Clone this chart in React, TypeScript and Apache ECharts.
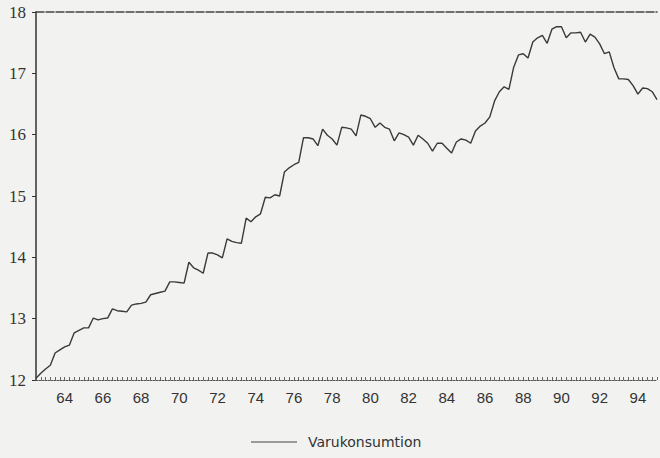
import React, { useEffect, useRef } from "react";
import * as echarts from "echarts";

const startYear = 1963;
const seriesName = "Varukonsumtion";

// Quarterly values, 1963Q1 .. 1995Q3
const values: number[] = [
  12.03, 12.11, 12.18, 12.24, // 1963
  12.44, 12.49, 12.54, 12.57, // 1964
  12.77, 12.81, 12.85, 12.85, // 1965
  13.01, 12.98, 13.0, 13.01, // 1966
  13.16, 13.13, 13.12, 13.11, // 1967
  13.22, 13.24, 13.25, 13.27, // 1968
  13.39, 13.41, 13.43, 13.45, // 1969
  13.6, 13.6, 13.59, 13.58, // 1970
  13.92, 13.83, 13.79, 13.74, // 1971
  14.07, 14.07, 14.04, 13.99, // 1972
  14.3, 14.26, 14.24, 14.23, // 1973
  14.64, 14.58, 14.66, 14.71, // 1974
  14.98, 14.97, 15.02, 15.0, // 1975
  15.39, 15.46, 15.51, 15.55, // 1976
  15.95, 15.95, 15.93, 15.82, // 1977
  16.09, 15.99, 15.93, 15.83, // 1978
  16.12, 16.11, 16.09, 15.98, // 1979
  16.32, 16.3, 16.26, 16.12, // 1980
  16.19, 16.12, 16.09, 15.9, // 1981
  16.03, 16.0, 15.96, 15.83, // 1982
  15.99, 15.93, 15.86, 15.73, // 1983
  15.86, 15.86, 15.78, 15.7, // 1984
  15.88, 15.93, 15.91, 15.86, // 1985
  16.06, 16.14, 16.19, 16.29, // 1986
  16.55, 16.7, 16.78, 16.74, // 1987
  17.1, 17.3, 17.32, 17.25, // 1988
  17.51, 17.58, 17.62, 17.49, // 1989
  17.72, 17.76, 17.76, 17.58, // 1990
  17.66, 17.66, 17.67, 17.51, // 1991
  17.64, 17.59, 17.48, 17.32, // 1992
  17.35, 17.09, 16.91, 16.91, // 1993
  16.9, 16.8, 16.66, 16.76, // 1994
  16.75, 16.7, 16.57, // 1995
];

const categories: string[] = values.map((_, i) => {
  const y = startYear + Math.floor(i / 4);
  return `${y}Q${(i % 4) + 1}`;
});

const yMin = 12;
const yMax = 18;
const yStep = 1;

const SANS = "Arial";
const SERIF = "Liberation Serif";
const LEGEND_FONT = "DejaVu Sans";

export default function App() {
  const ref = useRef<HTMLDivElement>(null);

  useEffect(() => {
    if (!ref.current) return;
    const chart = echarts.init(ref.current, undefined, { renderer: "svg" });
    const showLabel = (_idx: number, val: string) => {
      const year = parseInt(val.slice(0, 4), 10);
      return val.endsWith("Q3") && year % 2 === 0;
    };
    chart.setOption({
      animation: false,
      backgroundColor: "#f2f2f0",
      grid: { left: 36, right: 3, top: 12, bottom: 78 },
      legend: {
        left: 246,
        top: 430,
        itemWidth: 46,
        itemHeight: 1,
        icon: "rect",
        data: [{ name: seriesName, icon: "rect", itemStyle: { color: "#444" } }],
        textStyle: {
          fontFamily: LEGEND_FONT,
          fontSize: 14,
          color: "#333",
          padding: [0, 0, 0, 6],
        },
      },
      xAxis: [
        {
          type: "category",
          data: categories,
          boundaryGap: false,
          position: "bottom",
          axisLine: { lineStyle: { color: "#555", width: 1, type: [2, 1] } },
          axisTick: {
            inside: true,
            length: 3,
            interval: 0,
            lineStyle: { color: "#666", width: 1 },
          },
          axisLabel: {
            interval: showLabel,
            formatter: (v: string) => v.slice(2, 4),
            color: "#333",
            fontFamily: SANS,
            fontSize: 15,
            margin: 10,
          },
          splitLine: { show: false },
        },
        {
          type: "category",
          data: categories,
          boundaryGap: false,
          position: "top",
          axisLine: { lineStyle: { color: "#444", width: 1.5, type: [8, 2] } },
          axisTick: { show: false },
          axisLabel: { show: false },
          splitLine: { show: false },
        },
      ],
      yAxis: {
        type: "value",
        min: yMin,
        max: yMax,
        interval: yStep,
        axisLine: { show: true, lineStyle: { color: "#333", width: 1.5 } },
        axisTick: { show: true, length: 4, lineStyle: { color: "#333" } },
        axisLabel: {
          color: "#333",
          fontFamily: SERIF,
          fontSize: 17,
          margin: 10,
        },
        splitLine: { show: false },
      },
      series: [
        {
          name: seriesName,
          type: "line",
          data: values,
          symbol: "none",
          xAxisIndex: 0,
          lineStyle: { color: "#3a3a3a", width: 1.4 },
          itemStyle: { color: "#3a3a3a" },
        },
      ],
    });
    return () => chart.dispose();
  }, []);

  return (
    <div
      style={{
        position: "fixed",
        left: 0,
        top: 0,
        width: 660,
        height: 458,
        background: "#f2f2f0",
      }}
    >
      <div ref={ref} style={{ width: 660, height: 458 }} />
    </div>
  );
}
